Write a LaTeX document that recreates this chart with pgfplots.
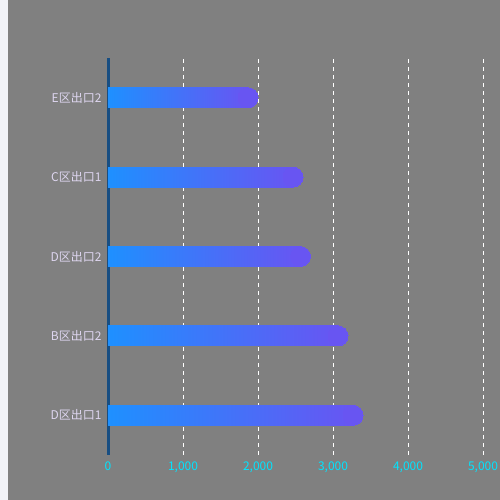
\documentclass[border=0pt]{standalone}
\usepackage{pgfplots}
\pgfplotsset{compat=1.18}
\usepackage{fontspec}
\setmainfont{Noto Sans CJK SC}
\definecolor{bg}{RGB}{128,128,128}
\definecolor{strip}{RGB}{241,242,247}
\definecolor{axisblue}{RGB}{24,78,130}
\definecolor{tickcyan}{RGB}{0,229,255}
\definecolor{lab}{RGB}{222,214,240}
\definecolor{barL}{RGB}{30,144,255}
\definecolor{barR}{RGB}{104,85,242}
\begin{document}
\begin{tikzpicture}[x=1pt,y=1pt]
\useasboundingbox (0,0) rectangle (500,500);
\fill[strip] (0,0) rectangle (8,500);
\fill[bg] (8,0) rectangle (500,500);
\begin{axis}[
  at={(108pt,45pt)}, anchor=south west,
  scale only axis, width=375pt, height=397pt,
  xmin=0, xmax=5000, ymin=-0.5, ymax=4.5,
  axis x line*=bottom, axis y line*=left,
  x axis line style={draw=none},
  y axis line style={draw=axisblue, line width=3pt},
  xtick={0,1000,2000,3000,4000,5000},
  xticklabels={0,{1,000},{2,000},{3,000},{4,000},{5,000}},
  ytick={0,1,2,3,4},
  yticklabels={D区出口1,B区出口2,D区出口2,C区出口1,E区出口2},
  major tick length=0pt,
  xticklabel style={text=tickcyan, font=\fontsize{12}{14}\selectfont, yshift=-3pt},
  yticklabel style={text=lab, font=\fontsize{12}{14}\selectfont, xshift=-3pt},
  /pgf/number format/assume math mode=true,
  clip=false,
  barstyle/.style={xbar, bar width=20pt, draw=none, left color=barL, right color=barR, x filter/.expression={x-133.33}},
  capstyle/.style={only marks, mark=*, mark size=10pt, draw=barR, fill=barR, mark options={draw=barR, fill=barR, line width=0pt}, x filter/.expression={x-133.33}},
]
% grid lines
\foreach \g in {1000,2000,3000,4000,5000}{
  \edef\tmp{\noexpand\draw[white, line width=1pt, dash pattern=on 4pt off 4pt] (axis cs:\g,-0.5) -- (axis cs:\g,4.5);}
  \tmp
}
% bars: one plot per bar so each has its own gradient
\addplot[barstyle] coordinates {(3400,0)};
\addplot[barstyle] coordinates {(3200,1)};
\addplot[barstyle] coordinates {(2700,2)};
\addplot[barstyle] coordinates {(2600,3)};
\addplot[barstyle] coordinates {(2000,4)};
% rounded caps
\addplot[capstyle] coordinates {(3400,0) (3200,1) (2700,2) (2600,3) (2000,4)};
\end{axis}
\end{tikzpicture}
\end{document}
